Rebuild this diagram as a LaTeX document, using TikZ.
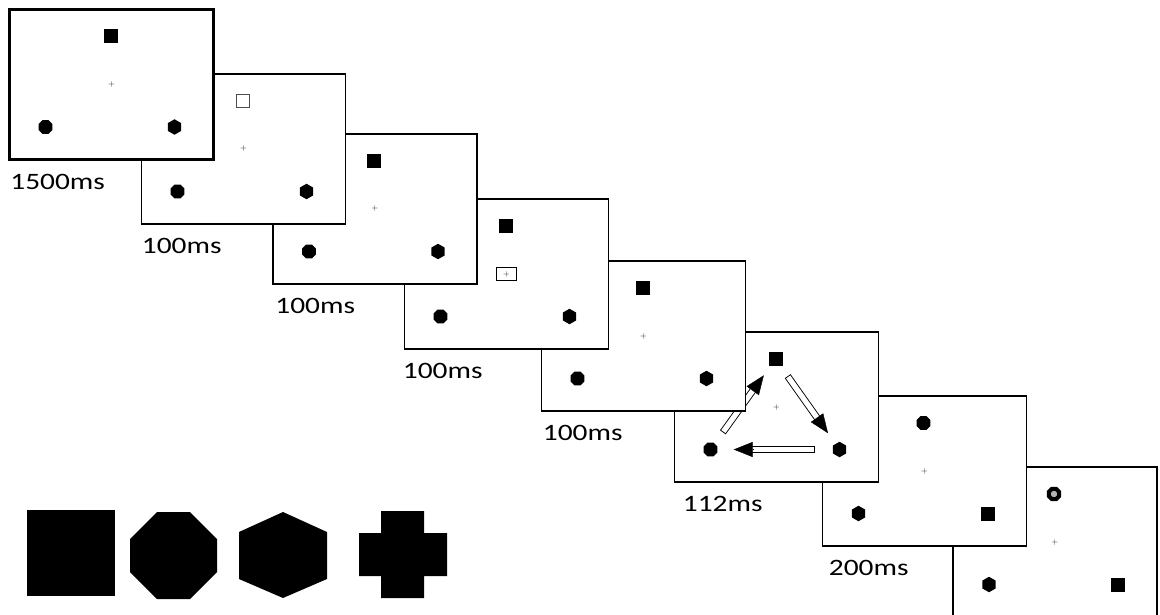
\documentclass[tikz,border=0pt]{standalone}
\usepackage{fontspec}
\newfontfamily\durfont[FakeStretch=1.25]{Carlito}
\usetikzlibrary{calc,shapes.geometric,arrows.meta}

\begin{document}
\begin{tikzpicture}[x=1pt,y=-1pt,
  screen/.style={draw,fill=white,minimum width=204pt,minimum height=150pt,inner sep=0pt},
  sq/.style={fill,minimum size=14pt,inner sep=0pt},
  opensq/.style={draw=black!70,line width=0.8pt,minimum size=13pt,inner sep=0pt},
  oct/.style={regular polygon,regular polygon sides=8,fill,minimum size=15pt,inner sep=0pt},
  hex/.style={regular polygon,regular polygon sides=6,shape border rotate=90,fill,minimum size=15.5pt,inner sep=0pt},
  ring/.style={regular polygon,regular polygon sides=8,draw,line width=4pt,fill=black!30,minimum size=11pt,inner sep=0pt},
  fix/.style={font=\fontsize{8}{8}\selectfont,text=black!90,inner sep=0pt},
  cue/.style={draw,line width=0.9pt,minimum width=20pt,minimum height=13pt,inner sep=0pt},
  dur/.style={font=\durfont\fontsize{23.5}{24}\selectfont,anchor=base west,inner sep=0pt},
  shaft/.style={line width=7pt},
  shaftin/.style={white,line width=5.2pt,shorten <=0.9pt},
  head/.style={-{Triangle[length=19pt,width=15pt]}}
]
  \path[use as bounding box,fill=white] (0,0) rectangle (1160,615);

  % screens, last one first so that earlier ones lie on top
  \foreach \i/\cx/\cy/\tp/\bl/\br/\dx/\lbl/\lw in {
      8/1055/542/ring/hex/sq/0/-/1.6,
      7/924.5/471/oct/hex/sq/7/200ms/1.6,
      6/776.5/407/sq/oct/hex/9/112ms/1.6,
      5/643.5/336/sq/oct/hex/2/100ms/1.6,
      4/506.5/274/sq/oct/hex/-1/100ms/1.6,
      3/375/209/sq/oct/hex/3/100ms/1.6,
      2/243.5/149/opensq/oct/hex/1/100ms/1.6,
      1/111.5/84.5/sq/oct/hex/2/1500ms/2.6}
  {
    \node[screen,line width=\lw pt] (f\i) at (\cx,\cy) {};
    \node[\tp] (t\i) at ($(f\i)+(-1,-48)$) {};
    \node[fix] (c\i) at (f\i) {+};
    \node[\bl] (l\i) at ($(f\i)+(-66,42.5)$) {};
    \node[\br] (r\i) at ($(f\i)+(63,42.5)$) {};
    \ifnum\i<8
      \node[dur] (d\i) at ($(f\i.south west)+(\dx,29)$) {\lbl};
    \fi
    \ifnum\i=4
      \node[cue] (b4) at (c4) {};
    \fi
    \ifnum\i=6
      \foreach \a/\b in {l6/t6,t6/r6,r6/l6}
      {
        \path (\a.center) -- (\b.center) coordinate[pos=.19] (s) coordinate[pos=.82] (e);
        \draw[shaft] (s) -- ($(e)!17pt!(s)$);
        \draw[shaftin] (s) -- ($(e)!17pt!(s)$);
        \draw[head] ($(e)!19pt!(s)$) -- (e);
      }
    \fi
  }

  % the four shapes
  \fill (27,510) rectangle (115,596);
  \fill (157,512) -- (190,512) -- (217,539) -- (217,572) -- (190,599) -- (157,599) -- (130,572) -- (130,539) -- cycle;
  \fill (283,512) -- (327,532) -- (327,579) -- (283,598) -- (239,579) -- (239,532) -- cycle;
  \fill (381,511) -- (424,511) -- (424,533) -- (447,533) -- (447,576) -- (424,576) -- (424,598)
        -- (381,598) -- (381,576) -- (359,576) -- (359,533) -- (381,533) -- cycle;
\end{tikzpicture}
\end{document}
